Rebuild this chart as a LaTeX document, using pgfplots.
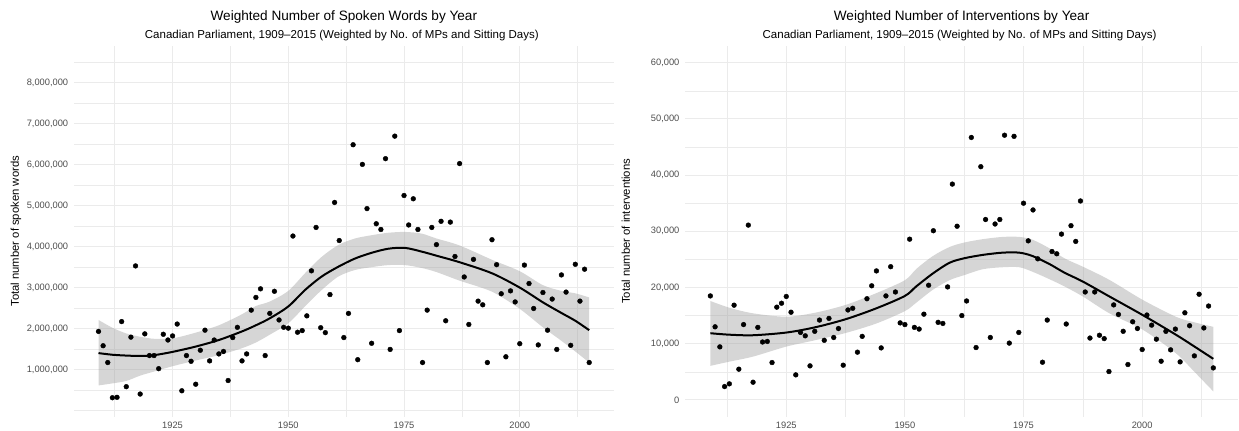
\documentclass[border=0pt]{standalone}
\usepackage{fontspec}
\setmainfont{Liberation Sans}
\usepackage{pgfplots}
\usepackage{pgfplotstable}
\pgfplotsset{compat=1.18}
\usepgfplotslibrary{fillbetween}
\definecolor{gridc}{HTML}{EBEBEB}
\definecolor{ticklab}{HTML}{4D4D4D}
\definecolor{ribbon}{HTML}{999999}

\pgfplotstableread{
year words
1909 1930000
1910 1580000
1911 1170000
1912 310000
1913 320000
1914 2170000
1915 580000
1916 1790000
1917 3530000
1918 400000
1919 1870000
1920 1340000
1921 1340000
1922 1020000
1923 1860000
1924 1720000
1925 1820000
1926 2110000
1927 480000
1928 1340000
1929 1200000
1930 640000
1931 1470000
1932 1960000
1933 1210000
1934 1720000
1935 1380000
1936 1440000
1937 730000
1938 1780000
1939 2030000
1940 1210000
1941 1380000
1942 2450000
1943 2760000
1944 2970000
1945 1340000
1946 2370000
1947 2910000
1948 2210000
1949 2030000
1950 2010000
1951 4260000
1952 1910000
1953 1950000
1954 2310000
1955 3410000
1956 4470000
1957 2020000
1958 1900000
1959 2830000
1960 5080000
1961 4150000
1962 1780000
1963 2370000
1964 6490000
1965 1240000
1966 6010000
1967 4930000
1968 1640000
1969 4560000
1970 4420000
1971 6150000
1972 1490000
1973 6700000
1974 1950000
1975 5250000
1976 4530000
1977 5170000
1978 4420000
1979 1170000
1980 2450000
1981 4470000
1982 4050000
1983 4620000
1984 2190000
1985 4600000
1986 3760000
1987 6030000
1988 3260000
1989 2100000
1990 3690000
1991 2670000
1992 2580000
1993 1170000
1994 4170000
1995 3560000
1996 2850000
1997 1310000
1998 2920000
1999 2650000
2000 1630000
2001 3550000
2002 3100000
2003 2490000
2004 1600000
2005 2880000
2006 1960000
2007 2720000
2008 1490000
2009 3310000
2010 2890000
2011 1590000
2012 3570000
2013 2670000
2014 3450000
2015 1170000
}\wordsdata

\pgfplotstableread{
year fit lo hi
1909 1400000 610000 2210000
1912 1360000 660000 2020000
1915 1340000 720000 1880000
1918 1330000 850000 1800000
1921 1350000 950000 1750000
1925 1430000 1080000 1760000
1930 1560000 1220000 1900000
1935 1720000 1350000 2080000
1940 1930000 1520000 2350000
1943 2080000 1660000 2550000
1946 2250000 1850000 2660000
1950 2540000 2130000 2920000
1953.6 2940000 2540000 3350000
1957.2 3270000 2940000 3750000
1960.8 3510000 3270000 4040000
1964.4 3710000 3430000 4200000
1968 3850000 3500000 4280000
1971.6 3950000 3550000 4340000
1975.2 3970000 3550000 4360000
1978.8 3880000 3480000 4320000
1982 3780000 3380000 4200000
1987 3620000 3170000 4030000
1994 3350000 2900000 3680000
2000 3000000 2480000 3400000
2005 2640000 2030000 3060000
2009 2380000 1700000 2920000
2012 2190000 1440000 2860000
2015 1960000 1170000 2760000
}\wordsfit

\pgfplotstableread{
year inter
1909 18500
1910 13000
1911 9430
1912 2370
1913 2850
1914 16850
1915 5460
1916 13400
1917 31100
1918 3140
1919 12900
1920 10300
1921 10400
1922 6640
1923 16500
1924 17200
1925 18400
1926 15600
1927 4450
1928 12000
1929 11400
1930 6050
1931 12200
1932 14200
1933 10600
1934 14500
1935 11100
1936 12700
1937 6170
1938 16000
1939 16300
1940 8490
1941 11300
1942 18000
1943 20300
1944 22950
1945 9250
1946 18500
1947 23700
1948 19200
1949 13700
1950 13400
1951 28600
1952 12900
1953 12600
1954 15250
1955 20400
1956 30100
1957 13800
1958 13600
1959 20100
1960 38400
1961 30900
1962 15000
1963 17600
1964 46700
1965 9310
1966 41500
1967 32100
1968 11100
1969 31300
1970 32100
1971 47100
1972 10100
1973 46900
1974 12000
1975 35000
1976 28300
1977 33800
1978 25100
1979 6700
1980 14200
1981 26400
1982 26000
1983 29500
1984 13500
1985 31000
1986 28200
1987 35400
1988 19200
1989 11000
1990 19200
1991 11500
1992 10900
1993 5040
1994 16900
1995 15200
1996 12200
1997 6290
1998 13900
1999 12700
2000 8960
2001 15100
2002 13300
2003 10800
2004 6880
2005 12200
2006 8900
2007 12600
2008 6760
2009 15500
2010 13200
2011 7830
2012 18800
2013 12800
2014 16700
2015 5690
}\interdata

\pgfplotstableread{
year fit lo hi
1909 11860 6050 17600
1913 11600 6800 16400
1918 11500 7700 15400
1925 11980 9480 14800
1931 12900 10600 15500
1937.5 14350 11900 16900
1944 16300 13600 19000
1950 18500 15800 21300
1952.4 20200 17300 23300
1955.9 22500 19600 25600
1959.4 24400 21300 27200
1962.5 25200 22200 28000
1966.4 25800 23250 28600
1970.6 26200 23600 29000
1974.1 26200 23600 29000
1976.9 25600 22800 28500
1980.4 24200 21500 27000
1983.6 22650 20200 25200
1987.5 21050 18400 23700
1993.1 18400 15400 21350
2000.1 15100 12500 17800
2007.1 11600 8300 14800
2011 9500 5000 13800
2015 7300 1500 13000
}\interfit

\pgfplotsset{
  gg/.style={
    scale only axis,
    anchor=south west,
    height=371pt,
    axis line style={draw=none},
    major tick length=0pt, minor tick length=0pt,
    tick style={draw=none},
    grid=both,
    major grid style={color=gridc, line width=1.07pt},
    minor grid style={color=gridc, line width=0.53pt},
    xmin=1903.7, xmax=2020.3,
    xtick={1925,1950,1975,2000},
    xticklabels={1925,1950,1975,2000},
    minor xtick={1912.5,1937.5,1962.5,1987.5,2012.5},
    xticklabel style={font=\fontsize{9.3}{11}\selectfont, color=ticklab, inner sep=0pt, yshift=-5.4pt},
    yticklabel style={font=\fontsize{9.3}{11}\selectfont, color=ticklab, inner sep=0pt, xshift=-5.6pt},
    scaled y ticks=false,
    /pgf/number format/assume math mode=true,
  }
}

\begin{document}
\begin{tikzpicture}[x=1pt,y=1pt]
% ---------- left panel ----------
\begin{axis}[gg, at={(74pt,14.1pt)}, width=540pt,
  ymin=-154000, ymax=8905000,
  ytick={1000000,2000000,3000000,4000000,5000000,6000000,7000000,8000000},
  yticklabels={{1,000,000},{2,000,000},{3,000,000},{4,000,000},{5,000,000},{6,000,000},{7,000,000},{8,000,000}},
  minor ytick={0,500000,1500000,2500000,3500000,4500000,5500000,6500000,7500000,8500000},
]
\addplot[only marks, mark=*, mark size=2.4pt, color=black] table[x=year,y=words]{\wordsdata};
\addplot[name path=lhi, draw=none, smooth] table[x=year,y=hi]{\wordsfit};
\addplot[name path=llo, draw=none, smooth] table[x=year,y=lo]{\wordsfit};
\addplot[fill=ribbon, fill opacity=0.4, draw=none] fill between[of=lhi and llo];
\addplot[black, line width=2pt, smooth] table[x=year,y=fit]{\wordsfit};
\end{axis}
% ---------- right panel ----------
\begin{axis}[gg, at={(685.5pt,14.1pt)}, width=553.5pt,
  ymin=-3000, ymax=63000,
  ytick={0,10000,20000,30000,40000,50000,60000},
  yticklabels={0,{10,000},{20,000},{30,000},{40,000},{50,000},{60,000}},
  minor ytick={5000,15000,25000,35000,45000,55000},
]
\addplot[only marks, mark=*, mark size=2.4pt, color=black] table[x=year,y=inter]{\interdata};
\addplot[name path=rhi, draw=none, smooth] table[x=year,y=hi]{\interfit};
\addplot[name path=rlo, draw=none, smooth] table[x=year,y=lo]{\interfit};
\addplot[fill=ribbon, fill opacity=0.4, draw=none] fill between[of=rhi and rlo];
\addplot[black, line width=2pt, smooth] table[x=year,y=fit]{\interfit};
\end{axis}
% ---------- titles ----------
\node[anchor=base, font=\fontsize{13.6}{16}\selectfont] at (344,410.3) {Weighted Number of Spoken Words by Year};
\node[anchor=base, font=\fontsize{11.5}{13}\selectfont] at (342,392.7) {Canadian Parliament, 1909–2015 (Weighted by No. of MPs and Sitting Days)};
\node[anchor=base, font=\fontsize{13.6}{16}\selectfont] at (962,410.3) {Weighted Number of Interventions by Year};
\node[anchor=base, font=\fontsize{11.5}{13}\selectfont] at (960,392.7) {Canadian Parliament, 1909–2015 (Weighted by No. of MPs and Sitting Days)};
% ---------- axis titles ----------
\node[rotate=90, font=\fontsize{11.3}{13}\selectfont] at (16,199.6) {Total number of spoken words};
\node[rotate=90, font=\fontsize{11.3}{13}\selectfont] at (626,199.6) {Total number of interventions};
\path (0,0) rectangle (1239,431);
\end{tikzpicture}
\end{document}
